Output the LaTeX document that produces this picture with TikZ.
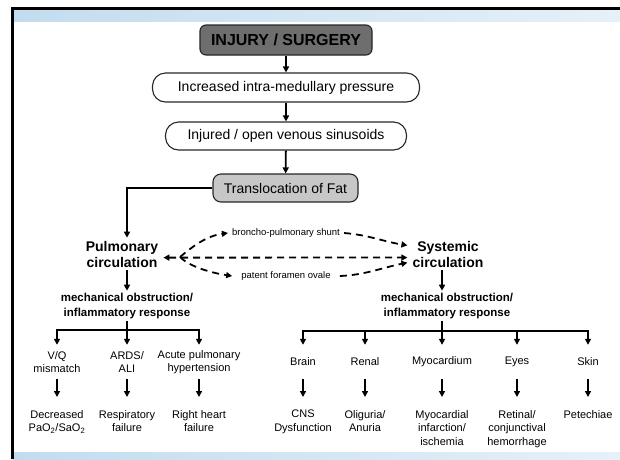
\documentclass[tikz,border=0pt]{standalone}
\usepackage{fontspec}
\setmainfont{Liberation Sans}
\usetikzlibrary{arrows.meta}
\definecolor{band}{HTML}{C2DCEF}
\definecolor{bandlight}{HTML}{E6F0F8}

\begin{document}
\begin{tikzpicture}[x=1pt,y=-1pt,
  arr/.style={line width=1.8pt,-{Triangle[length=6pt,width=6pt]}},
  flowdash/.style={line width=1.8pt,dash pattern=on 7pt off 5pt,-{Triangle[length=6pt,width=6pt]}},
  flowbox/.style={draw=black!85,line width=1.1pt,rounded corners=13pt,minimum height=28pt,font=\fontsize{14}{16}\selectfont},
  circ/.style={font=\fontsize{14}{16}\selectfont\bfseries,align=center,inner xsep=5pt,inner ysep=3pt},
  mech/.style={font=\fontsize{11.5}{15.5}\selectfont\bfseries,align=center,inner sep=2pt},
  organ/.style={font=\fontsize{11}{13.5}\selectfont,align=center,minimum height=34pt,inner sep=1pt},
  outcome/.style={font=\fontsize{11}{13.5}\selectfont,align=center,anchor=north,inner xsep=1pt,inner ysep=13pt},
  via/.style={font=\fontsize{9.5}{11}\selectfont,inner xsep=4pt}
]
\useasboundingbox (0,0) rectangle (620,459);

% Slide frame
\shade[left color=band,right color=bandlight] (13,9) rectangle (620,21);
\shade[left color=band,right color=bandlight] (13,452) rectangle (620,459);
\draw[line width=3pt] (12.5,459) -- (12.5,8) -- (620,8);

% Main chain
\node[flowbox,fill=black!57,rounded corners=6pt,minimum width=172pt,minimum height=30pt,font=\fontsize{16}{18}\selectfont\bfseries] (injury) at (286,40) {INJURY / SURGERY};
\node[flowbox,minimum width=267pt,minimum height=29pt] (pressure) at (286,87.5) {Increased intra-medullary pressure};
\node[flowbox,minimum width=241pt] (sinus) at (286,136) {Injured / open venous sinusoids};
\node[flowbox,fill=black!22,rounded corners=8pt,minimum width=145pt] (fat) at (285.5,188) {Translocation of Fat};

\draw[arr] (injury) -- (pressure);
\draw[arr] (pressure) -- (sinus);
\draw[arr] (sinus) -- (fat);

% Circulations
\node[circ] (pulm) at (122,254) {Pulmonary\\circulation};
\node[circ] (syst) at (448,254) {Systemic\\circulation};
\node[mech] (pmech) at (127,306) {mechanical obstruction/\\inflammatory response};
\node[mech] (smech) at (447,306) {mechanical obstruction/\\inflammatory response};

\draw[arr] (fat.west) -| (pmech.north |- pulm.north);
\draw[arr] (pmech.north |- pulm.south) -- (pmech);

% Shunts between the two circulations
\coordinate (split) at (180,257);
\node[via] (shunt) at (286,233) {broncho-pulmonary shunt};
\node[via,inner xsep=9pt] (foramen) at (286,276) {patent foramen ovale};
\draw[flowdash,{Triangle[length=6pt,width=6pt]}-{Triangle[length=6pt,width=6pt]}] (pulm.355) -- (syst.185);
\draw[flowdash] (split) .. controls +(12,-10) and +(-22,3) .. (shunt.west);
\draw[flowdash] (shunt.east) .. controls +(25,2) and +(-25,-4) .. (syst.168);
\draw[flowdash] (split) .. controls +(10,10) and +(-20,-3) .. (foramen.west);
\draw[flowdash] (foramen.east) .. controls +(25,-1) and +(-25,5) .. (syst.192);

% Pulmonary branch
\node[organ] (vq) at (57,362) {V/Q\\mismatch};
\node[organ] (ards) at (127,362) {ARDS/\\ALI};
\node[organ] (aph) at (199,362) {Acute pulmonary\\hypertension};
\node[outcome] (dec) at (57,397) {Decreased\\PaO\textsubscript{2}/SaO\textsubscript{2}};
\node[outcome] (resp) at (127,397) {Respiratory\\failure};
\node[outcome] (rhf) at (199,397) {Right heart\\failure};

\coordinate (pbar) at (127,330);
\draw[arr] (pmech) -- (ards);
\draw[arr] (pbar) -| (vq);
\draw[arr] (pbar) -| (aph);
\draw[arr] (vq) -- (dec);
\draw[arr] (ards) -- (resp);
\draw[arr] (aph) -- (rhf);

% Systemic branch
\node[organ] (brain) at (303,362) {Brain};
\node[organ] (renal) at (365,362) {Renal};
\node[organ] (myo) at (442,362) {Myocardium};
\node[organ] (eyes) at (517,362) {Eyes};
\node[organ] (skin) at (588,362) {Skin};
\node[outcome] (cns) at (303,397) {CNS\\Dysfunction};
\node[outcome] (olig) at (365,397) {Oliguria/\\Anuria};
\node[outcome] (infarct) at (442,397) {Myocardial\\infarction/\\ischemia};
\node[outcome] (retina) at (517,397) {Retinal/\\conjunctival\\hemorrhage};
\node[outcome] (pete) at (588,397) {Petechiae};

\draw[arr] (myo.north |- syst.south) -- (myo.north |- smech.north);
\draw[arr] (myo.north |- smech.south) -- (myo);
\coordinate (sbar) at (442,331);
\foreach \n in {brain,renal,eyes,skin}
  \draw[arr] (sbar) -| (\n);
\draw[arr] (brain) -- (cns);
\draw[arr] (renal) -- (olig);
\draw[arr] (myo) -- (infarct);
\draw[arr] (eyes) -- (retina);
\draw[arr] (skin) -- (pete);
\end{tikzpicture}
\end{document}
